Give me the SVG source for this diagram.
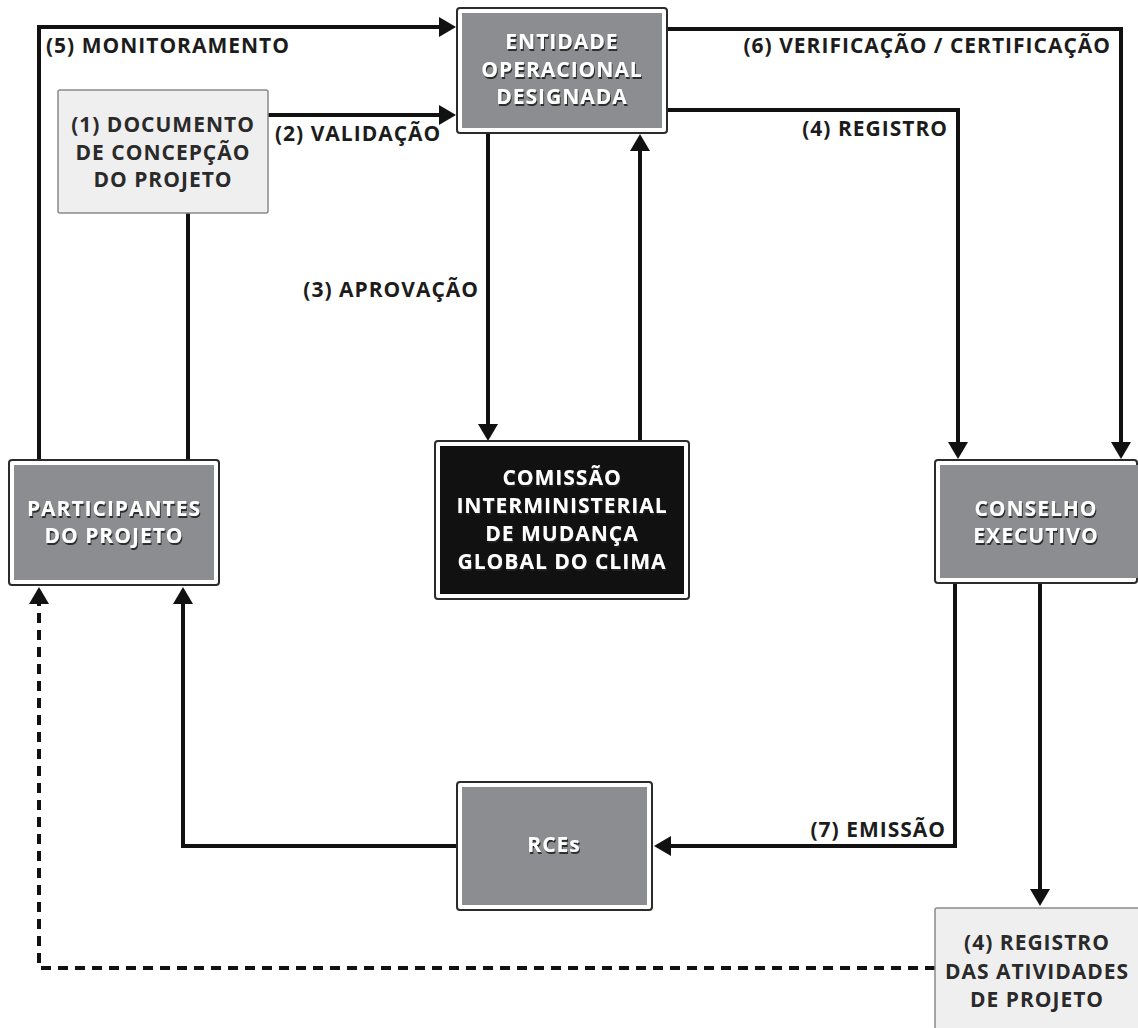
<svg xmlns="http://www.w3.org/2000/svg" width="1138" height="1028" viewBox="0 0 1138 1028">
<defs>
<style>
text{font-family:"Open Sans","DejaVu Sans",sans-serif;font-weight:700;letter-spacing:1px;}
.lbl{font-size:21px;fill:#1c1c1c;}
.nt{font-size:21px;fill:#ffffff;text-anchor:middle;filter:url(#sh);}
.dt{font-size:21px;fill:#2a2a2a;text-anchor:middle;}
.outer{fill:#ffffff;stroke:#2b2b2b;stroke-width:2;}
.gray{fill:#8c8d90;}
.black{fill:#111111;}
.light{fill:#efefef;stroke:#8a8a8a;stroke-width:1.5;}
.c{fill:none;stroke:#111;stroke-width:4;}
.dash{stroke-dasharray:10 7;}
</style>
<filter id="sh" x="-10%" y="-30%" width="120%" height="160%">
<feDropShadow dx="1" dy="2" stdDeviation="0.6" flood-color="#222" flood-opacity="0.9"/>
</filter>
<marker id="ah" markerUnits="userSpaceOnUse" markerWidth="20" markerHeight="20" viewBox="0 0 17 20" refX="3" refY="10" orient="auto">
<path d="M0,0 L17,10 L0,20 Z" fill="#111"/>
</marker>
</defs>
<rect width="1138" height="1028" fill="#ffffff"/>

<g id="connectors">
<path class="c" d="M39,460 V27 H442" marker-end="url(#ah)"/>
<path class="c" d="M268,115 H442" marker-end="url(#ah)"/>
<path class="c" d="M188,213 V460"/>
<path class="c" d="M488,133 V427" marker-end="url(#ah)"/>
<path class="c" d="M640,441 V148" marker-end="url(#ah)"/>
<path class="c" d="M667,29 H1121 V445" marker-end="url(#ah)"/>
<path class="c" d="M667,110 H958 V445" marker-end="url(#ah)"/>
<path class="c" d="M955,583 V846 H668" marker-end="url(#ah)"/>
<path class="c" d="M1040,583 V892" marker-end="url(#ah)"/>
<path class="c" d="M457,846 H183 V601" marker-end="url(#ah)"/>
<path class="c dash" d="M935,968 H39 V601" marker-end="url(#ah)"/>
<text class="lbl" x="46" y="53">(5) MONITORAMENTO</text>
<text class="lbl" x="275" y="141">(2) VALIDAÇÃO</text>
<text class="lbl" x="1111" y="53" text-anchor="end">(6) VERIFICAÇÃO / CERTIFICAÇÃO</text>
<text class="lbl" x="948" y="136" text-anchor="end">(4) REGISTRO</text>
<text class="lbl" x="479" y="297" text-anchor="end">(3) APROVAÇÃO</text>
<text class="lbl" x="946" y="837" text-anchor="end">(7) EMISSÃO</text>
</g>

<g id="entidade">
<rect class="outer" x="457" y="8" width="210" height="125" rx="3"/>
<rect class="gray" x="462" y="13" width="200" height="115"/>
<text class="nt" x="562" y="49">ENTIDADE</text>
<text class="nt" x="562" y="77">OPERACIONAL</text>
<text class="nt" x="562" y="104">DESIGNADA</text>
</g>

<g id="documento">
<rect class="light" x="58" y="90" width="210" height="123" rx="2"/>
<text class="dt" x="163" y="132">(1) DOCUMENTO</text>
<text class="dt" x="163" y="160">DE CONCEPÇÃO</text>
<text class="dt" x="163" y="187">DO PROJETO</text>
</g>

<g id="participantes">
<rect class="outer" x="9" y="460" width="210" height="125" rx="3"/>
<rect class="gray" x="14" y="465" width="200" height="115"/>
<text class="nt" x="114" y="516">PARTICIPANTES</text>
<text class="nt" x="114" y="543">DO PROJETO</text>
</g>

<g id="comissao">
<rect class="outer" x="435" y="441" width="254" height="158" rx="3"/>
<rect class="black" x="440" y="446" width="244" height="148"/>
<text class="nt" x="562" y="485">COMISSÃO</text>
<text class="nt" x="562" y="513">INTERMINISTERIAL</text>
<text class="nt" x="562" y="541">DE MUDANÇA</text>
<text class="nt" x="562" y="569">GLOBAL DO CLIMA</text>
</g>

<g id="conselho">
<rect class="outer" x="935" y="460" width="202" height="123" rx="3"/>
<rect class="gray" x="940" y="465" width="198" height="113"/>
<text class="nt" x="1036" y="516">CONSELHO</text>
<text class="nt" x="1036" y="543">EXECUTIVO</text>
</g>

<g id="rces">
<rect class="outer" x="457" y="782" width="195" height="128" rx="3"/>
<rect class="gray" x="462" y="787" width="185" height="118"/>
<text class="nt" x="554" y="852">RCEs</text>
</g>

<g id="registro">
<rect class="light" x="935" y="908" width="210" height="130" rx="2"/>
<text class="dt" x="1037" y="950">(4) REGISTRO</text>
<text class="dt" x="1037" y="979">DAS ATIVIDADES</text>
<text class="dt" x="1037" y="1007">DE PROJETO</text>
</g>
</svg>
